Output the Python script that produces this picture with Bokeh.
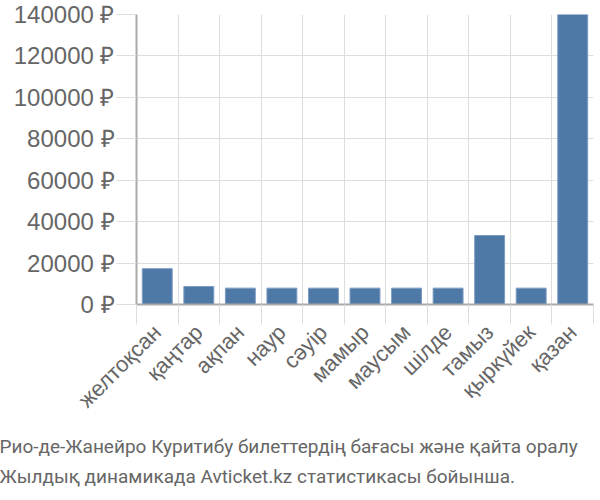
from bokeh.plotting import figure
from bokeh.models import FixedTicker, Title, Range1d
from bokeh.embed import file_html
from bokeh.resources import INLINE
import math

months = ["желтоқсан", "қаңтар", "ақпан", "наур", "сәуір", "мамыр",
          "маусым", "шілде", "тамыз", "қыркүйек", "қазан"]
prices = [17300, 8700, 7900, 7900, 7900, 7900, 7900, 7900, 33300, 7900, 140000]
y_ticks = [0, 20000, 40000, 60000, 80000, 100000, 120000, 140000]
y_tick_labels = ["0 ₽", "20000 ₽", "40000 ₽", "60000 ₽", "80000 ₽",
                 "100000 ₽", "120000 ₽", "140000 ₽"]
caption_lines = ["Рио-де-Жанейро Куритибу билеттердің бағасы және қайта оралу",
                 "Жылдық динамикада Avticket.kz статистикасы бойынша."]

n = len(months)
centers = [i + 0.5 for i in range(n)]
bounds = [float(i) for i in range(n + 1)]

TEXT = "#666666"
GRID = "#dddddd"
AXIS = "#aaaaaa"

p = figure(width=600, height=500, x_range=Range1d(0, n), y_range=Range1d(0, y_ticks[-1]),
           toolbar_location=None, output_backend="svg",
           min_border_left=136, min_border_right=7, min_border_top=14, min_border_bottom=196)
p.outline_line_color = None
p.background_fill_color = "white"

p.vbar(x=centers, top=prices, width=0.72, fill_color="#4e78a6",
       line_color="#7d9cc3", line_width=1)

# x axis
xa = p.xaxis[0]
xa.ticker = FixedTicker(ticks=centers, minor_ticks=bounds)
xa.major_label_overrides = {c: m for c, m in zip(centers, months)}
xa.major_tick_out = 0
xa.major_tick_in = 0
xa.minor_tick_out = 20
xa.minor_tick_in = 0
xa.minor_tick_line_color = GRID
xa.axis_line_color = AXIS
xa.axis_line_width = 2
xa.major_label_orientation = math.pi / 4
xa.major_label_standoff = 4
xa.major_label_text_font = "Liberation Sans"
xa.major_label_text_font_size = "22px"
xa.major_label_text_color = TEXT

# y axis
ya = p.yaxis[0]
ya.ticker = FixedTicker(ticks=y_ticks)
ya.major_label_overrides = {t: l for t, l in zip(y_ticks, y_tick_labels)}
ya.major_tick_out = 20
ya.major_tick_in = 0
ya.major_tick_line_color = GRID
ya.minor_tick_line_color = None
ya.axis_line_color = AXIS
ya.axis_line_width = 2
ya.major_label_standoff = 2
ya.major_label_text_font = "Liberation Sans"
ya.major_label_text_font_size = "24px"
ya.major_label_text_color = TEXT

p.xgrid.ticker = FixedTicker(ticks=bounds)
p.xgrid.grid_line_color = GRID
p.ygrid.grid_line_color = GRID

t = Title(text="\n".join(caption_lines), align="left", offset=-137, text_font="Roboto",
          text_font_size="19px", text_font_style="normal", text_color=TEXT,
          text_line_height=1.3, standoff=17)
p.add_layout(t, "below")

open("out.html", "w").write(file_html(p, INLINE))
